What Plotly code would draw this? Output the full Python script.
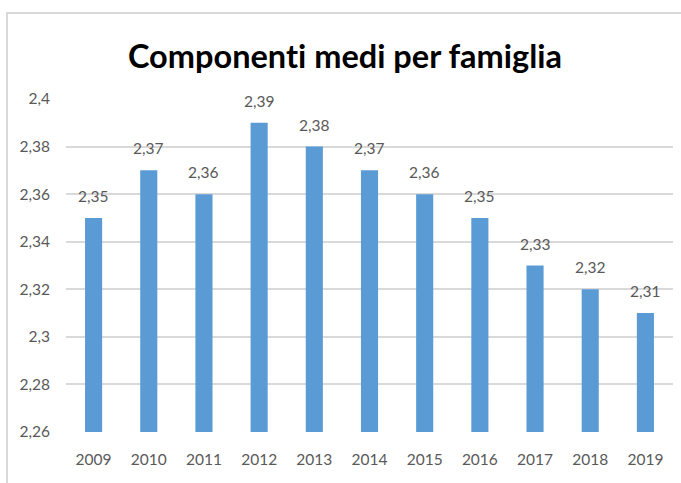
import plotly.graph_objects as go

years = ["2009", "2010", "2011", "2012", "2013", "2014", "2015", "2016", "2017", "2018", "2019"]
values = [2.35, 2.37, 2.36, 2.39, 2.38, 2.37, 2.36, 2.35, 2.33, 2.32, 2.31]
y_ticks = [2.26, 2.28, 2.30, 2.32, 2.34, 2.36, 2.38, 2.40]
title_text = "Componenti medi per famiglia"

FONT = "Lato, Open Sans, sans-serif"
GRAY = "#595959"
FS = 15.5

fig = go.Figure(
    go.Bar(
        x=years,
        y=values,
        base=0,
        marker=dict(color="#5b9bd5", line=dict(width=0)),
        hoverinfo="x+y",
    )
)

# data labels: category index on the categorical x axis, value on y
for i, v in enumerate(values):
    fig.add_annotation(
        x=i,
        y=v,
        xref="x",
        yref="y",
        text=f"{v:.2f}".replace(".", ","),
        showarrow=False,
        yanchor="bottom",
        yshift=11,
        font=dict(family=FONT, size=FS, color=GRAY),
    )

W, H = 681, 483
L, R, T, B = 66, 8, 99, 51
pw = W - L - R
ph = H - T - B

def px_x(x):
    return (x - L) / pw

def px_y(y):
    return (H - B - y) / ph

fig.update_layout(
    width=W,
    height=H,
    margin=dict(l=L, r=R, t=T, b=B, autoexpand=False),
    paper_bgcolor="white",
    plot_bgcolor="white",
    separators=",.",
    bargap=0.69,
    showlegend=False,
    title=dict(
        text="<b>" + title_text + "</b>",
        font=dict(family=FONT, size=32.5, color="black"),
        x=px_x(345),
        xanchor="center",
        y=1 - 57 / H,
        yanchor="middle",
        xref="paper",
    ),
    xaxis=dict(
        type="category",
        range=[-0.5, len(years) - 0.5],
        tickfont=dict(family=FONT, size=FS, color=GRAY),
        showline=False,
        showgrid=False,
        ticks="",
        ticklabelstandoff=16,
    ),
    yaxis=dict(
        range=[2.26, 2.40],
        tickvals=y_ticks,
        tickformat=".2~f",
        tickfont=dict(family=FONT, size=FS, color=GRAY),
        showgrid=True,
        gridcolor="#d9d9d9",
        gridwidth=1.5,
        zeroline=False,
        ticks="",
        ticklabelstandoff=15,
    ),
    shapes=[
        dict(
            type="rect",
            xref="paper",
            yref="paper",
            x0=px_x(7),
            x1=px_x(W + 20),
            y0=px_y(H + 20),
            y1=px_y(13),
            line=dict(color="#d9d9d9", width=2),
            fillcolor="rgba(0,0,0,0)",
            layer="below",
        )
    ],
)

post = (
    "document.body.style.margin='0';"
    "document.body.style.overflow='hidden';"
    "var s=document.createElement('style');"
    "s.textContent='.gtitle,.gtitle *{font-variant-ligatures:none !important;font-feature-settings:\"liga\" 0 !important;}';"
    "document.head.appendChild(s);"
)

fig.write_html("out.html", post_script=post, config={"displayModeBar": False})
